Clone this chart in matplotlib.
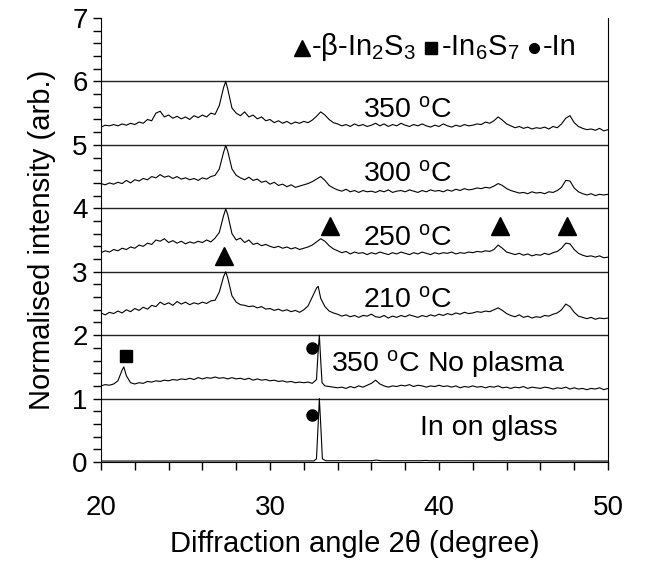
import numpy as np
import matplotlib as mpl
mpl.use('Agg')
import matplotlib.pyplot as plt
from matplotlib.ticker import MultipleLocator

plt.rcParams['font.family'] = ['Liberation Sans', 'DejaVu Sans']
plt.rcParams['mathtext.fontset'] = 'custom'
plt.rcParams['mathtext.rm'] = 'Liberation Sans'
plt.rcParams['mathtext.it'] = 'Liberation Sans:italic'
plt.rcParams['mathtext.bf'] = 'Liberation Sans:bold'

# 2theta sampling grid of the scans (0.25 deg)
angle = np.arange(20, 50.001, 0.25)

# normalised intensities (already offset)
t350 = [5.28, 5.31, 5.30, 5.32, 5.30, 5.33, 5.31, 5.34,
        5.32, 5.36, 5.34, 5.40, 5.38, 5.50, 5.53, 5.44,
        5.47, 5.42, 5.45, 5.41, 5.44, 5.40, 5.46, 5.43,
        5.47, 5.44, 5.50, 5.48, 5.62, 5.90, 5.88, 5.58,
        5.50, 5.46, 5.52, 5.44, 5.47, 5.41, 5.44, 5.38,
        5.40, 5.35, 5.38, 5.34, 5.37, 5.33, 5.36, 5.34,
        5.37, 5.35, 5.39, 5.45, 5.52, 5.47, 5.40, 5.35,
        5.33, 5.30, 5.32, 5.29, 5.33, 5.30, 5.32, 5.29,
        5.31, 5.34, 5.30, 5.33, 5.29, 5.32, 5.30, 5.34,
        5.31, 5.29, 5.32, 5.30, 5.33, 5.30, 5.28, 5.31,
        5.29, 5.33, 5.30, 5.28, 5.31, 5.29, 5.32, 5.30,
        5.31, 5.33, 5.32, 5.36, 5.34, 5.38, 5.44, 5.39,
        5.33, 5.30, 5.27, 5.29, 5.26, 5.28, 5.25, 5.27,
        5.26, 5.28, 5.25, 5.29, 5.27, 5.33, 5.42, 5.46,
        5.35, 5.29, 5.26, 5.24, 5.25, 5.23, 5.26, 5.22,
        5.24]
t300 = [4.39, 4.37, 4.40, 4.38, 4.41, 4.39, 4.44, 4.40,
        4.45, 4.43, 4.47, 4.45, 4.50, 4.48, 4.53, 4.49,
        4.51, 4.47, 4.50, 4.46, 4.48, 4.45, 4.47, 4.44,
        4.48, 4.46, 4.50, 4.52, 4.62, 4.88, 4.90, 4.62,
        4.52, 4.48, 4.45, 4.49, 4.44, 4.46, 4.41, 4.43,
        4.38, 4.41, 4.36, 4.38, 4.34, 4.37, 4.33, 4.35,
        4.37, 4.39, 4.42, 4.46, 4.50, 4.44, 4.36, 4.32,
        4.29, 4.27, 4.30, 4.26, 4.28, 4.25, 4.28, 4.26,
        4.27, 4.25, 4.28, 4.26, 4.29, 4.25, 4.27, 4.28,
        4.26, 4.29, 4.27, 4.25, 4.28, 4.26, 4.29, 4.27,
        4.28, 4.26, 4.29, 4.27, 4.30, 4.28, 4.31, 4.29,
        4.30, 4.32, 4.31, 4.33, 4.32, 4.35, 4.39, 4.36,
        4.31, 4.28, 4.26, 4.24, 4.25, 4.23, 4.26, 4.24,
        4.25, 4.23, 4.26, 4.25, 4.28, 4.33, 4.44, 4.43,
        4.32, 4.26, 4.23, 4.21, 4.23, 4.20, 4.22, 4.21,
        4.22]
t250 = [3.30, 3.33, 3.31, 3.35, 3.33, 3.37, 3.35, 3.39,
        3.37, 3.42, 3.40, 3.45, 3.43, 3.50, 3.48, 3.52,
        3.46, 3.49, 3.45, 3.48, 3.44, 3.47, 3.45, 3.48,
        3.46, 3.50, 3.47, 3.53, 3.62, 3.88, 3.90, 3.60,
        3.50, 3.53, 3.46, 3.50, 3.43, 3.45, 3.41, 3.43,
        3.40, 3.38, 3.40, 3.37, 3.39, 3.36, 3.38, 3.35,
        3.37, 3.39, 3.42, 3.47, 3.52, 3.48, 3.41, 3.36,
        3.33, 3.30, 3.32, 3.28, 3.31, 3.29, 3.30, 3.27,
        3.30, 3.28, 3.31, 3.29, 3.27, 3.30, 3.28, 3.31,
        3.29, 3.27, 3.30, 3.28, 3.31, 3.29, 3.27, 3.30,
        3.28, 3.30, 3.29, 3.31, 3.28, 3.30, 3.29, 3.31,
        3.30, 3.32, 3.31, 3.33, 3.32, 3.35, 3.42, 3.37,
        3.31, 3.29, 3.27, 3.29, 3.26, 3.28, 3.25, 3.27,
        3.26, 3.29, 3.27, 3.30, 3.32, 3.37, 3.45, 3.44,
        3.35, 3.29, 3.26, 3.24, 3.25, 3.23, 3.25, 3.22,
        3.23]
t210 = [2.35, 2.32, 2.36, 2.34, 2.38, 2.35, 2.40, 2.37,
        2.42, 2.39, 2.44, 2.41, 2.47, 2.45, 2.52, 2.48,
        2.51, 2.47, 2.53, 2.49, 2.52, 2.48, 2.51, 2.49,
        2.52, 2.50, 2.54, 2.55, 2.68, 2.92, 2.90, 2.62,
        2.52, 2.48, 2.47, 2.45, 2.46, 2.43, 2.45, 2.41,
        2.42, 2.39, 2.41, 2.38, 2.40, 2.37, 2.39, 2.36,
        2.40, 2.46, 2.60, 2.74, 2.58, 2.45, 2.38, 2.35,
        2.33, 2.30, 2.32, 2.29, 2.31, 2.28, 2.31, 2.30,
        2.33, 2.29, 2.28, 2.31, 2.27, 2.30, 2.28, 2.31,
        2.29, 2.32, 2.30, 2.28, 2.31, 2.29, 2.32, 2.30,
        2.33, 2.31, 2.34, 2.32, 2.35, 2.33, 2.36, 2.34,
        2.35, 2.37, 2.36, 2.38, 2.37, 2.40, 2.43, 2.39,
        2.34, 2.31, 2.29, 2.32, 2.28, 2.30, 2.27, 2.29,
        2.28, 2.31, 2.30, 2.33, 2.35, 2.40, 2.49, 2.45,
        2.36, 2.30, 2.28, 2.26, 2.28, 2.25, 2.27, 2.26,
        2.27]
t_noplasma = [1.20, 1.22, 1.21, 1.23, 1.28, 1.45, 1.36, 1.25,
              1.23, 1.25, 1.24, 1.27, 1.26, 1.28, 1.27, 1.29,
              1.28, 1.30, 1.29, 1.31, 1.30, 1.32, 1.30, 1.33,
              1.31, 1.33, 1.32, 1.34, 1.32, 1.33, 1.31, 1.33,
              1.31, 1.32, 1.30, 1.32, 1.29, 1.31, 1.29, 1.30,
              1.28, 1.29, 1.27, 1.28, 1.26, 1.27, 1.25, 1.26,
              1.25, 1.26, 1.24, 1.30, 1.60, 1.20, 1.19, 1.18,
              1.17, 1.18, 1.16, 1.19, 1.17, 1.20, 1.18, 1.21,
              1.24, 1.29, 1.23, 1.20, 1.18, 1.20, 1.19, 1.21,
              1.20, 1.22, 1.19, 1.21, 1.20, 1.18, 1.20, 1.19,
              1.21, 1.19, 1.20, 1.18, 1.20, 1.17, 1.19, 1.18,
              1.20, 1.18, 1.19, 1.17, 1.19, 1.18, 1.20, 1.17,
              1.18, 1.16, 1.18, 1.17, 1.19, 1.16, 1.18, 1.17,
              1.16, 1.18, 1.17, 1.15, 1.17, 1.16, 1.18, 1.15,
              1.17, 1.15, 1.16, 1.14, 1.16, 1.15, 1.17, 1.14,
              1.16]

# extra points on the sharp peak tops
peaks = {
    '350': ([27.38], [6.00]),
    '300': ([27.38], [4.99]),
    '250': ([27.38], [3.99]),
    '210': ([27.38, 32.85], [3.00, 2.77]),
    'noplasma': ([21.35, 32.85, 32.92, 33.08], [1.50, 1.75, 2.00, 1.25]),
}

# In on glass: flat baseline with one narrow In peak
glass_x = [20.0, 32.6, 32.75, 32.85, 32.92, 33.0, 33.1, 33.3, 36.0, 36.3, 36.6, 39.0, 39.2, 39.4, 50.0]
glass_y = [0.015, 0.017, 0.05, 0.60, 1.00, 0.60, 0.05, 0.02, 0.02, 0.03, 0.02, 0.02, 0.025, 0.02, 0.015]

labels = ['350 $^{\\mathrm{o}}$C', '300 $^{\\mathrm{o}}$C', '250 $^{\\mathrm{o}}$C',
          '210 $^{\\mathrm{o}}$C', '350 $^{\\mathrm{o}}$C No plasma', 'In on glass']
label_x = [35.5, 35.5, 35.5, 35.5, 33.6, 38.9]
label_y = [5.43, 4.43, 3.41, 2.43, 1.42, 0.42]

tri_x = [27.3, 33.55, 43.6, 47.6]
tri_y = [3.24, 3.72, 3.72, 3.72]
sq_x, sq_y = [21.5], [1.67]
circ_x = [32.47, 32.47]
circ_y = [1.80, 0.74]


def merged(vals, key):
    px, py = peaks[key]
    x = np.concatenate([angle, px])
    y = np.concatenate([vals, py])
    order = np.argsort(x)
    return x[order], y[order]


fig = plt.figure(figsize=(6.52, 5.62), dpi=100)
ax = fig.add_axes([101 / 652, 100 / 562, 507 / 652, 444 / 562])

for lvl in range(1, 7):
    ax.axhline(lvl, color='#222222', lw=1.0, zorder=1)

for vals, key in [(t350, '350'), (t300, '300'), (t250, '250'),
                  (t210, '210'), (t_noplasma, 'noplasma')]:
    x, y = merged(vals, key)
    ax.plot(x, y, color='black', lw=0.8, zorder=3)
ax.plot(glass_x, glass_y, color='black', lw=0.8, zorder=3)

ax.plot(tri_x, tri_y, '^', color='black', ms=13, zorder=4)
ax.plot(sq_x, sq_y, 's', color='black', ms=8, zorder=4)
ax.plot(circ_x, circ_y, 'o', color='black', ms=8, zorder=4)

for t, x, y in zip(labels, label_x, label_y):
    ax.text(x, y, t, fontsize=20.5, ha='left', va='baseline')

# legend drawn as markers + text
ax.plot([31.9], [6.53], '^', color='black', ms=12, zorder=4)
ax.text(32.45, 6.42, '-β-In$_2$S$_3$', fontsize=21, va='baseline')
ax.plot([39.5], [6.52], 's', color='black', ms=8, zorder=4)
ax.text(40.1, 6.42, '-In$_6$S$_7$', fontsize=21, va='baseline')
ax.plot([45.6], [6.52], 'o', color='black', ms=7, zorder=4)
ax.text(46.15, 6.42, '-In', fontsize=21, va='baseline')

ax.set_xlim(20, 50)
ax.set_ylim(0, 7)
ax.xaxis.set_major_locator(MultipleLocator(10))
ax.xaxis.set_minor_locator(MultipleLocator(2))
ax.yaxis.set_major_locator(MultipleLocator(1))
ax.yaxis.set_minor_locator(MultipleLocator(0.2))
ax.tick_params(which='both', direction='out', length=6, width=1, labelsize=20)
ax.tick_params(axis='x', pad=18)
ax.spines['top'].set_visible(False)
ax.set_xlabel('Diffraction angle 2θ (degree)', fontsize=21, labelpad=6)
ax.set_ylabel('Normalised intensity (arb.)', fontsize=21, labelpad=12)

plt.savefig('out.png', dpi=100)
